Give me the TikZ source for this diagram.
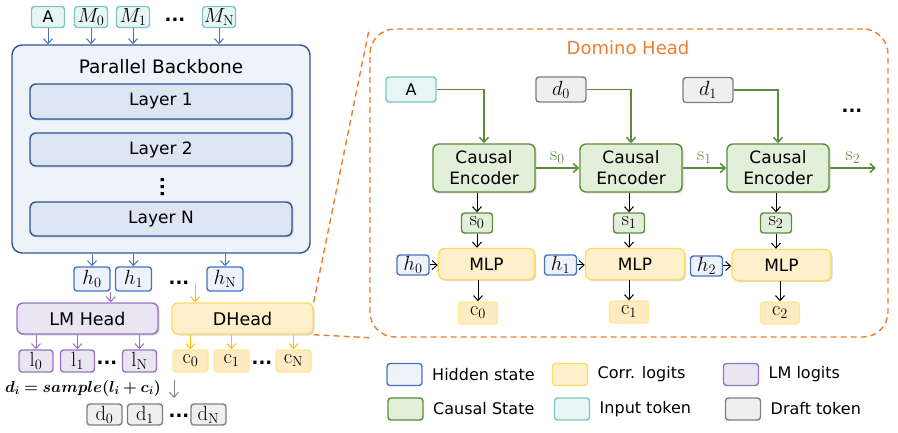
\RequirePackage{fix-cm}
\documentclass[tikz,border=0pt]{standalone}
\usepackage{amsmath,amssymb,bm}
\usepackage[no-math]{fontspec}
\setmainfont{DejaVu Sans}
\usetikzlibrary{positioning,arrows.meta,shadows}

\definecolor{hidB}{HTML}{4472C4}
\definecolor{hidF}{HTML}{EEF3FB}
\definecolor{bbB}{HTML}{2F5597}
\definecolor{bbF}{HTML}{EEF3F9}
\definecolor{layF}{HTML}{DDE4F2}
\definecolor{inB}{HTML}{7DC7C3}
\definecolor{inF}{HTML}{E8F5F5}
\definecolor{drB}{HTML}{7F7F7F}
\definecolor{drF}{HTML}{EFEFEF}
\definecolor{csB}{HTML}{5B8C3A}
\definecolor{csF}{HTML}{E2EFD9}
\definecolor{yeB}{HTML}{FFD966}
\definecolor{yeF}{HTML}{FFF0CC}
\definecolor{coB}{HTML}{FFE699}
\definecolor{coF}{HTML}{FFEBC2}
\definecolor{lmB}{HTML}{9673C0}
\definecolor{lmF}{HTML}{EAE5F3}
\definecolor{orng}{HTML}{ED7D31}
\definecolor{yeA}{HTML}{FFC000}

\begin{document}
\begin{tikzpicture}[x=1pt, y=-1pt,
        font=\fontsize{17}{20}\selectfont,
        box/.style={draw, rounded corners=4pt, line width=1.4pt, inner sep=0pt, align=center},
        tok/.style={box, rounded corners=3pt, minimum width=33pt, minimum height=21pt, font=\fontsize{20.5}{22}\selectfont},
        txttok/.style={tok, font=\fontsize{16}{19}\selectfont},
        blk/.style={box, rounded corners=6pt, drop shadow={shadow xshift=1.5pt, shadow yshift=-1.5pt, opacity=0.3}},
        leg/.style={box, rounded corners=3pt, minimum width=35pt, minimum height=22pt},
        legtxt/.style={right=6pt of #1, anchor=west, font=\fontsize{16}{19}\selectfont},
        arrow/.style={-{Straight Barb[length=5pt,width=9pt]}, line width=1pt},
        garrow/.style={arrow, csB, line width=1.5pt},
        dots/.style={inner sep=0pt, font=\bfseries\fontsize{18}{18}\selectfont}
    ]
        \useasboundingbox (0,0) rectangle (898,433);

        % input tokens
        \node[txttok, draw=inB, fill=inF] (ta) at (48,17) {A};
        \node[tok, draw=inB, fill=inF] (tm0) at (91,17) {$M_0$};
        \node[tok, draw=inB, fill=inF] (tm1) at (133,17) {$M_1$};
        \node[dots] (tdots) at (175,20) {...};
        \node[tok, draw=inB, fill=inF] (tmn) at (219,17) {$M_{\mathrm{N}}$};

        % backbone
        \node[box, draw=bbB, fill=bbF, rounded corners=10pt, minimum width=298pt, minimum height=208pt] (bb) at (161,149) {};
        \node[font=\fontsize{18.5}{22}\selectfont] (bbt) at (161,67) {Parallel Backbone};
        \node[blk, draw=bbB, fill=layF, minimum width=262pt, minimum height=35pt] (lay1) at (161,101.5) {Layer 1};
        \node[blk, draw=bbB, fill=layF, minimum width=262pt, minimum height=33pt] (lay2) at (161,149.5) {Layer 2};
        \node[dots, rotate=90] (vd) at (163,187) {...};
        \node[blk, draw=bbB, fill=layF, minimum width=262pt, minimum height=34pt] (layn) at (161,219) {Layer N};

        \foreach \t in {ta,tm0,tm1,tmn}
            \draw[arrow, hidB] (\t.south) -- (\t.south |- bb.north);

        % hidden states
        \node[tok, draw=hidB, fill=hidF, minimum width=36pt, minimum height=24pt] (h0) at (92,279) {$h_0$};
        \node[tok, draw=hidB, fill=hidF, minimum width=36pt, minimum height=24pt] (h1) at (133.5,279) {$h_1$};
        \node[dots] (hdots) at (179,283) {...};
        \node[tok, draw=hidB, fill=hidF, minimum width=36pt, minimum height=24pt] (hn) at (225,279) {$h_{\mathrm{N}}$};

        \foreach \t in {h0,h1,hn}
            \draw[arrow, hidB] (\t.north |- bb.south) -- (\t.north);

        % heads
        \node[blk, draw=lmB, fill=lmF, minimum width=141pt, minimum height=31pt, font=\fontsize{17.5}{20}\selectfont] (lmh) at (87.5,318.5) {LM Head};
        \node[blk, draw=yeB, fill=yeF, minimum width=141pt, minimum height=31pt, font=\fontsize{17.5}{20}\selectfont] (dh) at (242.5,318.5) {DHead};
        \coordinate (dhin) at (195,283);

        \draw[arrow, lmB] (h0.south east) -- (h0.south east |- lmh.north);
        \draw[arrow, yeA] (dhin) -- (dhin |- dh.north);

        % logits
        \node[tok, draw=lmB, fill=lmF, minimum width=34pt, minimum height=22pt] (l0) at (36,361) {$\mathrm{l}_0$};
        \node[tok, draw=lmB, fill=lmF, minimum width=34pt, minimum height=22pt] (l1) at (77.5,361) {$\mathrm{l}_1$};
        \node[dots] (ldots) at (107,363) {...};
        \node[tok, draw=lmB, fill=lmF, minimum width=34pt, minimum height=22pt] (ln) at (139.5,361) {$\mathrm{l}_{\mathrm{N}}$};

        \node[tok, draw=coB, fill=coF, minimum width=35pt, minimum height=22pt] (c0) at (190.5,361) {$\mathrm{c}_0$};
        \node[tok, draw=coB, fill=coF, minimum width=35pt, minimum height=22pt] (c1) at (231.5,361) {$\mathrm{c}_1$};
        \node[dots] (cdots) at (262,363) {...};
        \node[tok, draw=coB, fill=coF, minimum width=35pt, minimum height=22pt] (cn) at (293.5,361) {$\mathrm{c}_{\mathrm{N}}$};

        \foreach \t in {l0,l1,ln}
            \draw[arrow, lmB] (\t.north |- lmh.south) -- (\t.north);
        \foreach \t in {c0,c1,cn}
            \draw[arrow, yeA] (\t.north |- dh.south) -- (\t.north);

        % sampling
        \node[font=\fontsize{16}{18}\selectfont] (samp) at (83,388) {$\bm{d_i = sample(l_i + c_i)}$};
        \coordinate (g1) at (174,380);
        \coordinate (g2) at (174,398);
        \draw[arrow, gray] (g1) -- (g2);

        \node[tok, draw=drB, fill=drF, minimum width=35pt, minimum height=21pt] (d0) at (104.5,414.5) {$\mathrm{d}_0$};
        \node[tok, draw=drB, fill=drF, minimum width=35pt, minimum height=21pt] (d1) at (145,414.5) {$\mathrm{d}_1$};
        \node[dots] (ddots) at (179,416) {...};
        \node[tok, draw=drB, fill=drF, minimum width=35pt, minimum height=21pt] (dn) at (208.5,414.5) {$\mathrm{d}_{\mathrm{N}}$};

        % domino head
        \node[draw=orng, dash pattern=on 6pt off 4pt, line width=1.4pt, rounded corners=25pt, minimum width=518pt, minimum height=308pt] (dom) at (629,183) {};
        \node[text=orng, font=\fontsize{18}{20}\selectfont] (domt) at (628,48) {Domino Head};
        \draw[orng, dash pattern=on 6pt off 4pt, line width=1.4pt] (dh.north east) -- (dom.north west);
        \draw[orng, dash pattern=on 6pt off 4pt, line width=1.4pt] (dh.south east) -- (dom.south west);

        \node[txttok, draw=inB, fill=inF, minimum width=50pt, minimum height=25pt] (ina) at (411,89.5) {A};
        \node[tok, draw=drB, fill=drF, minimum width=50pt, minimum height=25pt] (ind0) at (561,89.5) {$d_0$};
        \node[tok, draw=drB, fill=drF, minimum width=50pt, minimum height=25pt] (ind1) at (708,90) {$d_1$};
        \node[dots] (edots) at (852,111) {...};

        \node[blk, draw=csB, fill=csF, minimum width=102pt, minimum height=48pt, font=\fontsize{17}{21}\selectfont] (ce0) at (484,168) {Causal\\Encoder};
        \node[blk, draw=csB, fill=csF, minimum width=102pt, minimum height=48pt, font=\fontsize{17}{21}\selectfont] (ce1) at (631,168) {Causal\\Encoder};
        \node[blk, draw=csB, fill=csF, minimum width=102pt, minimum height=48pt, font=\fontsize{17}{21}\selectfont] (ce2) at (778,168) {Causal\\Encoder};
        \coordinate (sout) at (876,168);

        \draw[garrow] (ina.east) -| (ce0.north);
        \draw[garrow] (ind0.east) -| (ce1.north);
        \draw[garrow] (ind1.east) -| (ce2.north);
        \draw[garrow] (ce0.east) -- node[above, text=csB, font=\fontsize{20}{22}\selectfont] {$\mathrm{s}_0$} (ce1.west);
        \draw[garrow] (ce1.east) -- node[above, text=csB, font=\fontsize{20}{22}\selectfont] {$\mathrm{s}_1$} (ce2.west);
        \draw[garrow] (ce2.east) -- node[above, text=csB, font=\fontsize{20}{22}\selectfont] {$\mathrm{s}_2$} (sout);

        \node[tok, draw=csB, fill=csF, minimum width=31pt, minimum height=20pt] (s0) at (477,223) {$\mathrm{s}_0$};
        \node[tok, draw=csB, fill=csF, minimum width=31pt, minimum height=20pt] (s1) at (629,223) {$\mathrm{s}_1$};
        \node[tok, draw=csB, fill=csF, minimum width=31pt, minimum height=20pt] (s2) at (776,223) {$\mathrm{s}_2$};

        \node[blk, draw=yeB, fill=yeF, minimum width=96pt, minimum height=31pt] (m0) at (486.5,264) {MLP};
        \node[blk, draw=yeB, fill=yeF, minimum width=99pt, minimum height=31pt] (m1) at (635,264) {MLP};
        \node[blk, draw=yeB, fill=yeF, minimum width=99pt, minimum height=31pt] (m2) at (781.5,265) {MLP};

        \node[tok, draw=hidB, fill=hidF, minimum width=32pt, minimum height=20pt] (eh0) at (413,265) {$h_0$};
        \node[tok, draw=hidB, fill=hidF, minimum width=32pt, minimum height=20pt] (eh1) at (560.5,265) {$h_1$};
        \node[tok, draw=hidB, fill=hidF, minimum width=32pt, minimum height=20pt] (eh2) at (706.5,266) {$h_2$};

        \node[tok, draw=coB, fill=coF, minimum width=39pt, minimum height=22pt] (ec0) at (478,313) {$\mathrm{c}_0$};
        \node[tok, draw=coB, fill=coF, minimum width=39pt, minimum height=22pt] (ec1) at (629,312) {$\mathrm{c}_1$};
        \node[tok, draw=coB, fill=coF, minimum width=39pt, minimum height=22pt] (ec2) at (780,313) {$\mathrm{c}_2$};

        \foreach \i in {0,1,2} {
            \draw[arrow] (s\i.north |- ce\i.south) -- (s\i.north);
            \draw[arrow] (s\i.south) -- (s\i.south |- m\i.north);
            \draw[arrow] (eh\i.east) -- (m\i.west |- eh\i.east);
            \draw[arrow] (ec\i.north |- m\i.south) -- (ec\i.north);
        }

        % legend
        \node[leg, draw=hidB, fill=hidF] (lghid) at (404.5,374.5) {};
        \node[legtxt=lghid] (lghidt) {Hidden state};
        \node[leg, draw=yeB, fill=yeF] (lgcor) at (570,374.5) {};
        \node[legtxt=lgcor] (lgcort) {Corr. logits};
        \node[leg, draw=lmB, fill=lmF] (lglm) at (741,374.5) {};
        \node[legtxt=lglm] (lglmt) {LM logits};
        \node[leg, draw=csB, fill=csF] (lgcs) at (405.5,409) {};
        \node[legtxt=lgcs] (lgcst) {Causal State};
        \node[leg, draw=inB, fill=inF] (lgin) at (572,409) {};
        \node[legtxt=lgin] (lgint) {Input token};
        \node[leg, draw=drB, fill=drF] (lgdr) at (743,409) {};
        \node[legtxt=lgdr] (lgdrt) {Draft token};
    \end{tikzpicture}
\end{document}
